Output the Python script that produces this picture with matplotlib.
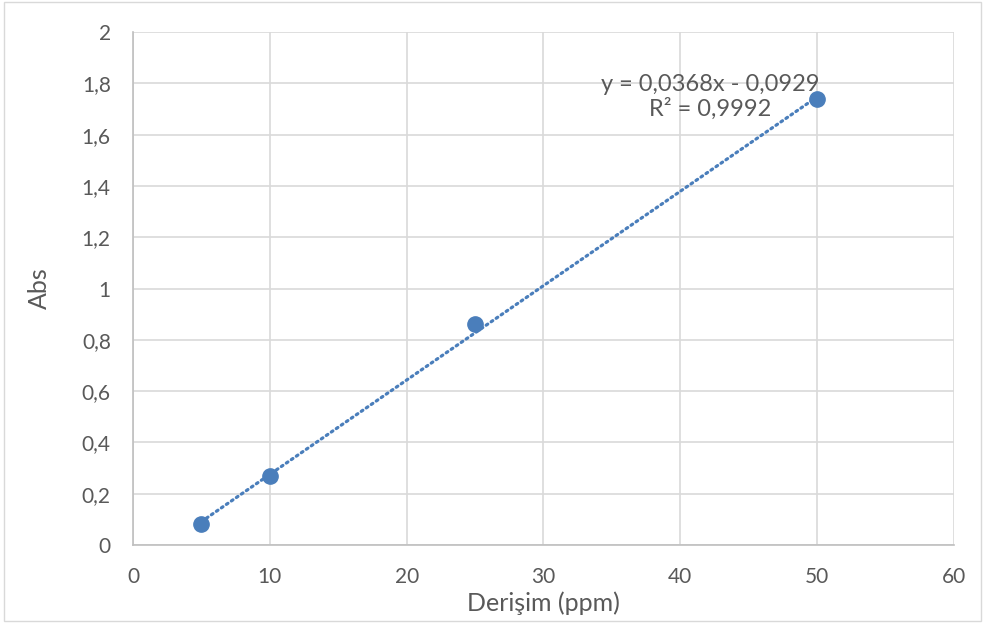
import matplotlib
matplotlib.use("Agg")
import matplotlib.pyplot as plt
import numpy as np

# Data
conc = [5, 10, 25, 50]
absorb = [0.082, 0.268, 0.861, 1.737]
slope = 0.0368
intercept = -0.0929
x_ticks = [0, 10, 20, 30, 40, 50, 60]
y_ticks = [0, 0.2, 0.4, 0.6, 0.8, 1.0, 1.2, 1.4, 1.6, 1.8, 2.0]
y_labels = ["0", "0,2", "0,4", "0,6", "0,8", "1", "1,2", "1,4", "1,6", "1,8", "2"]

plt.rcParams['font.family'] = ['Lato', 'DejaVu Sans']
txt = '#595959'
blue = '#4a7ebb'

fig = plt.figure(figsize=(9.85, 6.23), dpi=100)
fig.patches.append(plt.Rectangle((0.004, 0.004), 0.992, 0.992, transform=fig.transFigure,
                                 fill=False, edgecolor='#d9d9d9', linewidth=1))
ax = fig.add_axes([0.135, 0.1252, 0.8335, 0.8234])

xs = np.array([conc[0], conc[-1]])
ax.plot(xs, slope * xs + intercept, linestyle=(0, (0.6, 1.3)), color=blue, linewidth=2.3,
        dash_capstyle='round', zorder=3)
ax.plot(conc, absorb, 'o', color=blue, markersize=11, zorder=4)

ax.set_xlim(0, 60)
ax.set_ylim(0, 2)
ax.set_xticks(x_ticks)
ax.set_xticklabels([str(v) for v in x_ticks])
ax.set_yticks(y_ticks)
ax.set_yticklabels(y_labels)
ax.grid(True, color='#d9d9d9', linewidth=1.2)
ax.set_axisbelow(True)
for s in ['top', 'right']:
    ax.spines[s].set_visible(False)
for s in ['left', 'bottom']:
    ax.spines[s].set_color('#bfbfbf')
    ax.spines[s].set_linewidth(1.2)
ax.tick_params(axis='y', length=0, labelsize=15, colors=txt, pad=16)
ax.tick_params(axis='x', length=0, labelsize=15, colors=txt, pad=16)
ax.set_xlabel('Derişim (ppm)', fontsize=18, color=txt, labelpad=3)
ax.set_ylabel('Abs', fontsize=18, color=txt, labelpad=22)

ax.text(42.2, 1.747, 'y = 0,0368x - 0,0929\nR² = 0,9992', ha='center', va='center',
        fontsize=17, color=txt, linespacing=1.2)

fig.savefig('out.png', dpi=100)
